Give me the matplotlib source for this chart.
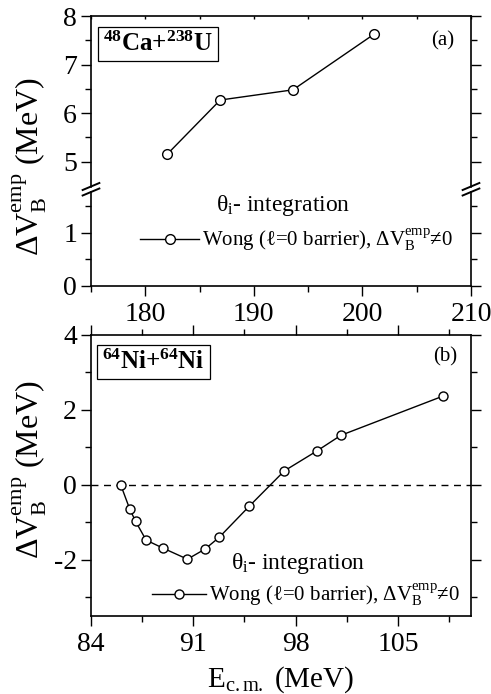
import matplotlib
matplotlib.use("Agg")
import matplotlib.pyplot as plt
from matplotlib.ticker import FixedLocator

plt.rcParams["font.family"] = ["Liberation Serif", "DejaVu Serif"]
plt.rcParams["mathtext.fontset"] = "custom"
plt.rcParams["mathtext.rm"] = "Liberation Serif"
plt.rcParams["mathtext.it"] = "Liberation Serif:italic"
plt.rcParams["mathtext.bf"] = "Liberation Serif:bold"
plt.rcParams["axes.unicode_minus"] = False

# panel (a): 48Ca+238U
ca_ecm = [182.0, 186.9, 193.6, 201.1]
ca_dvb = [5.15, 6.27, 6.48, 7.63]

# panel (b): 64Ni+64Ni
ni_ecm = [86.03, 86.64, 87.05, 87.77, 88.9, 90.6, 91.8, 92.76, 94.84,
          97.23, 99.45, 101.1, 108.1]
ni_dvb = [0.0, -0.64, -0.98, -1.48, -1.69, -1.99, -1.72, -1.41, -0.57,
          0.37, 0.90, 1.32, 2.37]

W, H = 491, 694
fig = plt.figure(figsize=(W / 100, H / 100), dpi=100)


def px_box(left, top, right, bottom):
    return [left / W, 1 - bottom / H, (right - left) / W, (bottom - top) / H]


def px_text(x, y, s, **kw):
    return fig.text(x / W, 1 - y / H, s, **kw)


ax_hi = fig.add_axes(px_box(91, 16, 471, 186.5))
ax_lo = fig.add_axes(px_box(91, 192, 471, 285.7))
ax_b = fig.add_axes(px_box(91, 335, 471, 615.7))

line_kw = dict(color="black", lw=1.0, marker="o", mfc="white", mec="black",
               mew=1.0)
LEGEND_LABEL = "Wong (ℓ=0 barrier), ΔV$_{\\rm B}^{\\rm emp}$≠0"
YLABEL = "ΔV$_{\\rm B}^{\\rm emp}$ (MeV)"


def style(ax):
    for s in ax.spines.values():
        s.set_linewidth(1.2)
    ax.tick_params(axis="both", which="both", direction="out", width=1.0,
                   labelsize=20, pad=3)
    ax.tick_params(which="major", length=7)
    ax.tick_params(which="minor", length=4)


# ---- panel (a), broken y axis ----
for ax in (ax_hi, ax_lo):
    style(ax)
    ax.plot(ca_ecm, ca_dvb, ms=7, **line_kw)
    ax.set_xlim(175, 210)
    ax.xaxis.set_major_locator(FixedLocator([180, 190, 200, 210]))
    ax.xaxis.set_minor_locator(FixedLocator([175, 185, 195, 205]))

ax_hi.set_ylim(4.49, 8)
ax_hi.yaxis.set_major_locator(FixedLocator([5, 6, 7, 8]))
ax_hi.yaxis.set_minor_locator(FixedLocator([5.5, 6.5, 7.5]))
ax_hi.spines["bottom"].set_visible(False)
ax_hi.tick_params(bottom=False, labelbottom=False, which="both")
ax_hi.tick_params(axis="x", which="both", top=True, direction="in", length=2)

ax_lo.set_ylim(0, 1.77)
ax_lo.yaxis.set_major_locator(FixedLocator([0, 1]))
ax_lo.yaxis.set_minor_locator(FixedLocator([0.5, 1.5]))
ax_lo.spines["top"].set_visible(False)
ax_lo.tick_params(axis="x", pad=5)

for ax in (ax_hi, ax_lo):
    ax.tick_params(axis="y", which="both", right=True)

# break marks on both spines
for ax, yy in ((ax_hi, 0.0), (ax_lo, 1.0)):
    dy = 3.5 / (ax.get_position().height * H)
    for xx in (0.0, 1.0):
        ax.plot([xx - 0.022, xx + 0.022], [yy - dy, yy + dy],
                transform=ax.transAxes, color="black", lw=1.4, clip_on=False)

ax_lo.legend([ax_lo.lines[0]], [LEGEND_LABEL], loc="center left",
             bbox_to_anchor=(0.13, 0.49), frameon=False, fontsize=15,
             handlelength=2.8, handletextpad=0.15, borderpad=0,
             borderaxespad=0)

px_text(283, 205, "θ$_{\\rm i}$- integration", fontsize=17,
        ha="center", va="center")
px_text(158, 44, "$\\mathbf{^{48}Ca{+}^{238}U}$", fontsize=18, ha="center",
        va="center",
        bbox=dict(boxstyle="square,pad=0.2", fc="white", ec="black", lw=0.9))
px_text(443, 41, "(a)", fontsize=15, ha="center", va="center")
px_text(30, 167, YLABEL, fontsize=23, rotation=90, ha="center", va="center")

# ---- panel (b) ----
style(ax_b)
ax_b.axhline(0, color="black", lw=1.0, ls=(0, (5, 4)))
ax_b.plot(ni_ecm, ni_dvb, ms=6.5, **line_kw)
ax_b.set_xlim(84, 110)
ax_b.set_ylim(-3.5, 4)
ax_b.xaxis.set_major_locator(FixedLocator([84, 91, 98, 105]))
ax_b.xaxis.set_minor_locator(FixedLocator([87.5, 94.5, 101.5, 108.5]))
ax_b.yaxis.set_major_locator(FixedLocator([-2, 0, 2, 4]))
ax_b.yaxis.set_minor_locator(FixedLocator([-3, -1, 1, 3]))
ax_b.tick_params(which="both", top=True, right=True)
ax_b.tick_params(axis="x", pad=5)
ax_b.set_xlabel("E$_{\\rm c.m.}$ (MeV)", fontsize=21, labelpad=5)
ax_b.legend([ax_b.lines[1]], [LEGEND_LABEL], loc="center left",
            bbox_to_anchor=(0.16, 0.074), frameon=False, fontsize=15,
            handlelength=2.6, handletextpad=0.15, borderpad=0,
            borderaxespad=0)

px_text(298, 563, "θ$_{\\rm i}$- integration", fontsize=17,
        ha="center", va="center")
px_text(153.5, 362, "$\\mathbf{^{64}Ni{+}^{64}Ni}$", fontsize=18,
        ha="center", va="center",
        bbox=dict(boxstyle="square,pad=0.2", fc="white", ec="black", lw=0.9))
px_text(445, 357, "(b)", fontsize=15, ha="center", va="center")
px_text(30, 470, YLABEL, fontsize=23, rotation=90, ha="center", va="center")

fig.savefig("out.png", dpi=100)
